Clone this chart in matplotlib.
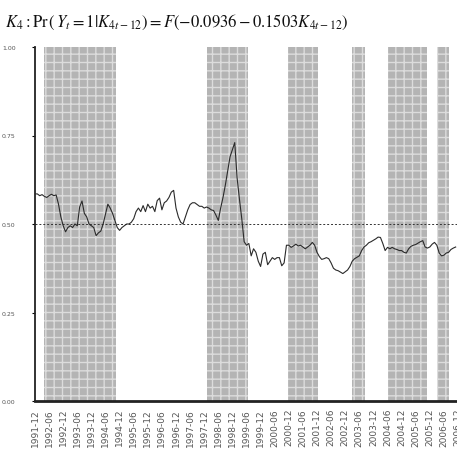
import matplotlib
matplotlib.use("Agg")
import matplotlib.pyplot as plt
import numpy as np

# monthly probability series starting 1991-12 (month index 0)
prob = [0.585, 0.585, 0.580, 0.583, 0.578, 0.575, 0.580, 0.584, 0.580, 0.582,
        0.556, 0.520, 0.495, 0.478, 0.490, 0.495, 0.490, 0.500, 0.495, 0.548,
        0.565, 0.530, 0.520, 0.500, 0.495, 0.490, 0.467, 0.475, 0.480, 0.500,
        0.528, 0.556, 0.545, 0.530, 0.510, 0.490, 0.482, 0.490, 0.495, 0.500,
        0.500, 0.505, 0.515, 0.535, 0.545, 0.535, 0.552, 0.535, 0.556, 0.545,
        0.550, 0.535, 0.566, 0.573, 0.540, 0.560, 0.565, 0.575, 0.590, 0.595,
        0.545, 0.520, 0.505, 0.500, 0.520, 0.540, 0.555, 0.560, 0.560, 0.555,
        0.550, 0.550, 0.545, 0.548, 0.545, 0.540, 0.538, 0.525, 0.510, 0.545,
        0.575, 0.610, 0.650, 0.690, 0.710, 0.730, 0.630, 0.570, 0.514, 0.450,
        0.440, 0.445, 0.410, 0.430, 0.420, 0.395, 0.380, 0.415, 0.420, 0.385,
        0.395, 0.405, 0.400, 0.405, 0.405, 0.382, 0.390, 0.440, 0.440, 0.434,
        0.438, 0.443, 0.438, 0.440, 0.435, 0.430, 0.435, 0.440, 0.448, 0.440,
        0.420, 0.408, 0.400, 0.402, 0.405, 0.402, 0.390, 0.375, 0.370, 0.368,
        0.364, 0.360, 0.365, 0.370, 0.380, 0.395, 0.402, 0.406, 0.410, 0.425,
        0.435, 0.440, 0.447, 0.450, 0.454, 0.458, 0.463, 0.462, 0.445, 0.425,
        0.434, 0.430, 0.434, 0.430, 0.428, 0.425, 0.425, 0.420, 0.418, 0.430,
        0.437, 0.440, 0.442, 0.446, 0.450, 0.453, 0.435, 0.432, 0.435, 0.443,
        0.448, 0.440, 0.418, 0.410, 0.412, 0.418, 0.420, 0.428, 0.432, 0.435]

# shaded periods (start month, end month), month index from 1991-12
band_start = [4.0, 73.0, 107.5, 135.0, 150.0, 171.0]
band_end = [34.5, 90.5, 120.5, 140.5, 167.0, 176.2]

tick_labels = []
for yr in range(1991, 2007):
    for mo in (6, 12):
        if yr == 1991 and mo == 6:
            continue
        tick_labels.append(f"{yr}-{mo:02d}")
tick_pos = [6 * i for i in range(len(tick_labels))]

threshold = 0.5
yticks = [0.0, 0.25, 0.5, 0.75, 1.0]
ytick_labels = ["0.00", "0.25", "0.50", "0.75", "1.00"]

plt.rcParams['mathtext.fontset'] = 'stix'
plt.rcParams['hatch.linewidth'] = 1.0

W, H = 457, 460
fig = plt.figure(figsize=(W / 100, H / 100), dpi=100)
px_per_month = 2.35
xmax = 181.0
left = 35 / W
width = xmax * px_per_month / W
bottom = (H - 402) / H
top = (H - 48) / H
ax = fig.add_axes([left, bottom, width, top - bottom])

for s, e in zip(band_start, band_end):
    ax.axvspan(s, e, facecolor='#b4b4b4', edgecolor='#dcdcdc', hatch='++',
               linewidth=0, zorder=1)

ax.axhline(threshold, color='#333333', linestyle=(0, (2, 2)), linewidth=0.7, zorder=2)
x = np.arange(len(prob))
ax.plot(x, prob, color='#2a2a2a', linewidth=0.8, zorder=3)

ax.set_xlim(0, xmax)
ax.set_ylim(0, 1.0)
ax.set_yticks(yticks)
ax.set_yticklabels(ytick_labels)
ax.set_xticks(tick_pos)
ax.set_xticklabels(tick_labels, rotation=90)
ax.tick_params(axis='x', length=0, labelsize=6.5, labelcolor='#555555', pad=5)
ax.tick_params(axis='y', length=2, labelsize=4.5, labelcolor='#555555', pad=12)

for sp in ('top', 'right'):
    ax.spines[sp].set_visible(False)
ax.spines['left'].set_linewidth(1.3)
ax.spines['left'].set_color('#222222')
ax.spines['bottom'].set_linewidth(2.0)
ax.spines['bottom'].set_color('#222222')

fig.text(5 / W, 1 - 22 / H,
         r"$K_4:\mathrm{Pr}\,(\,Y_t=1|K_{4t-12})=F(-0.0936-0.1503K_{4t-12})$",
         fontsize=12, ha='left', va='center', color='#111111')

fig.savefig("out.png", dpi=100)
